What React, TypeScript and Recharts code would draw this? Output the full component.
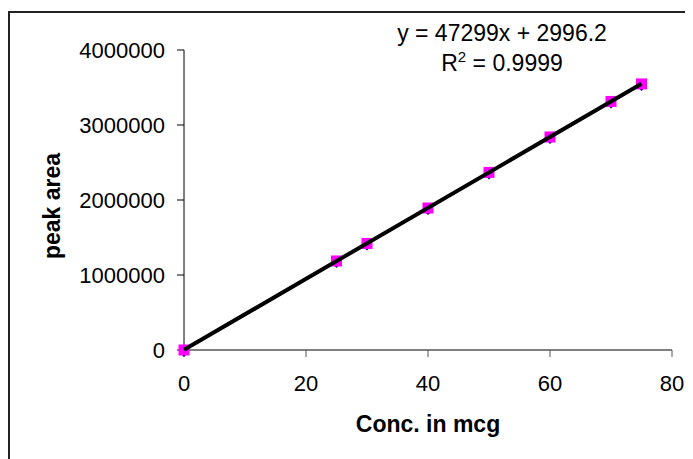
import { Label, Scatter, ScatterChart, XAxis, YAxis } from 'recharts'

// calibration points (conc. in mcg vs peak area)
const conc = [0, 25, 30, 40, 50, 60, 70, 75]
const peakArea = [0, 1187000, 1421000, 1893000, 2368000, 2840000, 3314000, 3548000]

const trendConc = [0, 75]
const trendArea = [2996, 3550421]

const xTicks = [0, 20, 40, 60, 80]
const yTicks = [0, 1000000, 2000000, 3000000, 4000000]

const points = conc.map((c, i) => ({ x: c, y: peakArea[i] }))
const trend = trendConc.map((c, i) => ({ x: c, y: trendArea[i] }))

const FONT = '"Liberation Sans", Arial, sans-serif'

function Marker(props: any) {
  const { cx, cy } = props
  if (cx == null || cy == null) return <g />
  return (
    <g>
      <path
        d={`M${cx},${cy - 1} L${cx + 4},${cy + 3} L${cx},${cy + 7} L${cx - 4},${cy + 3} Z`}
        fill="#000080"
      />
      <rect x={cx - 5.5} y={cy - 5.5} width={11} height={11} fill="#ff00ff" />
    </g>
  )
}

function YTitle(props: any) {
  const { viewBox } = props
  const cx = 44
  const cy = viewBox.y + viewBox.height / 2 + 6
  return (
    <text
      x={cx}
      y={cy}
      transform={`rotate(-90 ${cx} ${cy})`}
      textAnchor="middle"
      dominantBaseline="central"
      fontFamily={FONT}
      fontWeight="bold"
      fontSize={23}
      fill="#000"
    >
      peak area
    </text>
  )
}

export default function App() {
  return (
    <div
      style={{
        position: 'relative',
        width: 685,
        height: 451,
        overflow: 'hidden',
        background: '#fff',
      }}
    >
      <div
        style={{
          position: 'absolute',
          left: 0,
          top: 3,
          width: 720,
          height: 520,
          border: '2px solid #222',
          boxSizing: 'border-box',
        }}
      />
      <ScatterChart
        width={685}
        height={451}
        margin={{ top: 42, right: 21, bottom: 19, left: 76 }}
        style={{ position: 'absolute', left: 0, top: 0 }}
      >
        <XAxis
          type="number"
          dataKey="x"
          domain={[0, 80]}
          ticks={xTicks}
          height={90}
          tickSize={7}
          tickMargin={18}
          axisLine={{ stroke: '#808080', strokeWidth: 2 }}
          tickLine={{ stroke: '#555' }}
          tick={{ fill: '#000', fontSize: 22, fontFamily: FONT }}
        >
          <Label
            value="Conc. in mcg"
            position="insideBottom"
            offset={8}
            style={{ fontFamily: FONT, fontWeight: 'bold', fontSize: 23, fill: '#000' }}
          />
        </XAxis>
        <YAxis
          type="number"
          dataKey="y"
          domain={[0, 4000000]}
          ticks={yTicks}
          width={100}
          tickSize={7}
          tickMargin={12}
          axisLine={{ stroke: '#000', strokeWidth: 1 }}
          tickLine={{ stroke: '#000' }}
          tick={{ fill: '#000', fontSize: 22, fontFamily: FONT }}
        >
          <Label content={<YTitle />} />
        </YAxis>
        <Scatter data={points} shape={<Marker />} isAnimationActive={false} />
        <Scatter
          data={trend}
          line={{ stroke: '#000', strokeWidth: 4 }}
          shape={() => <g />}
          isAnimationActive={false}
        />
      </ScatterChart>
      <div
        style={{
          position: 'absolute',
          left: 344,
          width: 300,
          top: 10,
          textAlign: 'center',
          fontFamily: FONT,
          fontSize: 23,
          lineHeight: '30px',
          color: '#000',
          whiteSpace: 'nowrap',
        }}
      >
        <div>y = 47299x + 2996.2</div>
        <div>
          R<sup style={{ fontSize: 15, lineHeight: 0 }}>2</sup> = 0.9999
        </div>
      </div>
    </div>
  )
}
